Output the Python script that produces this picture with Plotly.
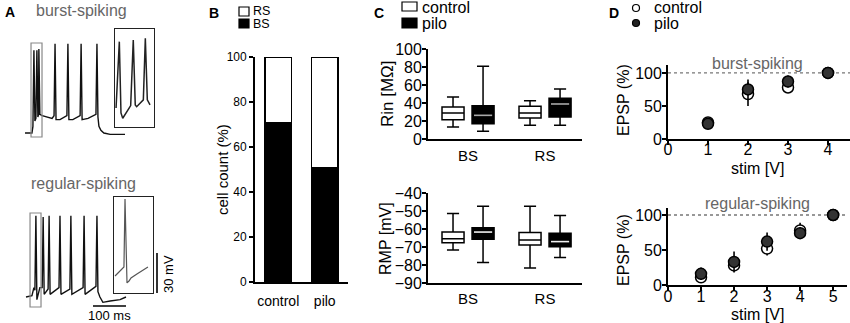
import plotly.graph_objects as go

W, H = 850, 323
FONT = "Liberation Sans, Arial, sans-serif"

# ---------------- Panel A: membrane potential traces (ms, mV) ----------------
A_top_t = [0, 21, 24, 27, 30, 33, 36, 39, 41, 42, 45, 52, 67, 82, 88, 91, 94, 106, 127, 130,
           133, 145, 167, 170, 173, 191, 215, 218, 221, 224, 230, 239, 258, 282, 303]
A_top_v = [-70, -70, -65, -8, -61, -59, -8, -58, -56, -7, -56, -57, -58, -59, -57, -3, -60, -60, -57, -3,
           -60, -60, -57, -3, -60, -59, -56, -3, -58, -65, -68, -70, -71, -71, -71]

A_bot_t = [3, 21, 27, 30, 33, 36, 39, 45, 52, 55, 58, 70, 73, 76, 103, 106, 109, 136, 139, 142,
           176, 179, 182, 215, 218, 221, 227, 236, 258, 288, 306]
A_bot_v = [-70, -69, -63, -65, -9, -72, -69, -63, -63, -10, -68, -64, -9, -68, -63, -9, -68, -64, -9, -68,
           -63, -9, -68, -62, -9, -66, -70, -74, -73, -72, -70]

A_in1_t = [19.1, 21.9, 23.3, 24.8, 31.6, 33.8, 35.5, 36.7, 42.4, 44.1, 45.8, 48.1]
A_in1_v = [-59.3, -11.6, -62.9, -66.7, -57.6, -10.4, -57.1, -58.4, -53.5, -9.2, -53.5, -57.1]

A_in2_t = [16.1, 23.7, 24.6, 26.3, 28.0, 29.7, 34.8, 44.2]
A_in2_v = [-65.0, -58.4, -8.5, -70.1, -68.7, -66.5, -63.5, -58.4]

INSET1_T = [18.2, 51.5]
INSET1_V = [-73, -2.5]
INSET2_T = [15.2, 48.5]
INSET2_V = [-77.5, -7]
SCALE_MS = 100
SCALE_MV = 30

# ---------------- Panel B: cell count ----------------
B_groups = ["control", "pilo"]
B_BS = [71, 51]
B_RS = [29, 49]
B_yticks = [0, 20, 40, 60, 80, 100]

# ---------------- Panel C: box plots ----------------
C_groups = ["BS", "RS"]
Rin_ctrl = dict(lo=[13.3, 15.2], q1=[21.5, 23.3], med=[28.9, 28.9], q3=[35.6, 36.3], hi=[46.7, 42.6])
Rin_pilo = dict(lo=[8.5, 15.2], q1=[17.0, 24.4], med=[26.3, 38.9], q3=[37.0, 45.2], hi=[80.7, 55.6])
RMP_ctrl = dict(lo=[-71.6, -81.7], q1=[-67.6, -68.9], med=[-65.4, -66.1], q3=[-61.7, -61.9], hi=[-51.4, -47.4])
RMP_pilo = dict(lo=[-78.6, -75.8], q1=[-65.7, -69.8], med=[-61.7, -67.0], q3=[-59.3, -62.4], hi=[-47.4, -52.5])
Rin_ticks = [0, 20, 40, 60, 80, 100]
RMP_ticks = [-90, -80, -70, -60, -50, -40]

# ---------------- Panel D: EPSP vs stim ----------------
D_bs_stim = [1, 2, 3, 4]
D_bs_ctrl = [25, 68, 78, 100]
D_bs_ctrl_err = [3, 18, 6, 1]
D_bs_pilo = [23, 75, 87, 100]
D_bs_pilo_err = [4, 15, 9, 1]

D_rs_stim = [1, 2, 3, 4, 5]
D_rs_ctrl = [11, 28, 52, 78, 100]
D_rs_ctrl_err = [5, 7, 10, 11, 1]
D_rs_pilo = [16, 33, 62, 74, 100]
D_rs_pilo_err = [9, 15, 13, 8, 1]


def xd(a, b):
    return [a / W, b / W]


def yd(top, bot):
    return [1 - bot / H, 1 - top / H]


def txt(s, x, y, size, color="black", xa="center", ya="middle", angle=0, bold=False):
    return dict(text=(f"<b>{s}</b>" if bold else s), x=x / W, y=1 - y / H, xref="paper", yref="paper",
                xanchor=xa, yanchor=ya, showarrow=False, textangle=angle,
                font=dict(size=size, color=color, family=FONT))


def axis(dom, rng, anchor, size=14, **kw):
    d = dict(domain=dom, range=rng, anchor=anchor, showgrid=False, zeroline=False, showline=True,
             linecolor="black", linewidth=1.8, ticks="outside", tickcolor="black", tickwidth=1.6,
             ticklen=4, tickfont=dict(size=size, family=FONT, color="black"), fixedrange=True,
             automargin=False)
    d.update(kw)
    return d


def hidden(dom, rng, anchor, **kw):
    d = dict(domain=dom, range=rng, anchor=anchor, visible=False, fixedrange=True, automargin=False)
    d.update(kw)
    return d


fig = go.Figure()

# ---- Panel A traces
fig.add_trace(go.Scatter(x=A_top_t, y=A_top_v, mode="lines", line=dict(color="#111", width=1.4),
                         xaxis="x6", yaxis="y6", hoverinfo="skip"))
fig.add_trace(go.Scatter(x=A_bot_t, y=A_bot_v, mode="lines", line=dict(color="#111", width=1.4),
                         xaxis="x7", yaxis="y7", hoverinfo="skip"))
fig.add_trace(go.Scatter(x=A_in1_t, y=A_in1_v, mode="lines", line=dict(color="#222", width=1.5),
                         xaxis="x8", yaxis="y8", hoverinfo="skip"))
fig.add_trace(go.Scatter(x=A_in2_t, y=A_in2_v, mode="lines", line=dict(color="#555", width=1.2),
                         xaxis="x9", yaxis="y9", hoverinfo="skip"))

# ---- Panel B bars
B_x = list(range(len(B_groups)))
fig.add_trace(go.Bar(x=B_x, y=B_BS, marker=dict(color="black", line=dict(color="black", width=1.5)),
                     width=0.56, xaxis="x", yaxis="y"))
fig.add_trace(go.Bar(x=B_x, y=B_RS, marker=dict(color="white", line=dict(color="black", width=1.5)),
                     width=0.56, xaxis="x", yaxis="y"))

# ---- Panel C boxes
C_OFF = 0.195
C_W = 0.286
C_pos = list(range(len(C_groups)))


def add_boxes(stats, fill, ax_x, ax_y, offset, median_color=None):
    xs = [p + offset for p in C_pos]
    fig.add_trace(go.Box(x=xs, q1=stats["q1"], median=stats["med"], q3=stats["q3"],
                         lowerfence=stats["lo"], upperfence=stats["hi"], width=C_W, whiskerwidth=0.55,
                         fillcolor=fill, line=dict(color="black", width=1.5), boxpoints=False,
                         xaxis=ax_x, yaxis=ax_y, hoverinfo="skip"))
    if median_color:
        mx, my = [], []
        for x, m in zip(xs, stats["med"]):
            mx += [x - C_W / 2 + 0.025, x + C_W / 2 - 0.025, None]
            my += [m, m, None]
        fig.add_trace(go.Scatter(x=mx, y=my, mode="lines", line=dict(color=median_color, width=1.6),
                                 xaxis=ax_x, yaxis=ax_y, hoverinfo="skip"))


add_boxes(Rin_ctrl, "white", "x2", "y2", -C_OFF)
add_boxes(Rin_pilo, "black", "x2", "y2", C_OFF, "#a8a8a8")
add_boxes(RMP_ctrl, "white", "x3", "y3", -C_OFF)
add_boxes(RMP_pilo, "black", "x3", "y3", C_OFF, "#f0f0f0")

# ---- Panel D scatter
def add_pts(xs, ys, err, color, ax_x, ax_y):
    fig.add_trace(go.Scatter(x=xs, y=ys, mode="markers", cliponaxis=False,
                             marker=dict(size=11, color=color, line=dict(color="black", width=1.5)),
                             error_y=dict(type="data", array=err, color="black", thickness=1.6, width=0),
                             xaxis=ax_x, yaxis=ax_y, hoverinfo="skip"))


add_pts(D_bs_stim, D_bs_ctrl, D_bs_ctrl_err, "white", "x4", "y4")
add_pts(D_bs_stim, D_bs_pilo, D_bs_pilo_err, "#333333", "x4", "y4")
add_pts(D_rs_stim, D_rs_ctrl, D_rs_ctrl_err, "white", "x5", "y5")
add_pts(D_rs_stim, D_rs_pilo, D_rs_pilo_err, "#333333", "x5", "y5")

# ---------------- Layout ----------------
layout = dict(
    template="none",
    width=W, height=H, margin=dict(l=0, r=0, t=0, b=0, pad=0, autoexpand=False), showlegend=False,
    plot_bgcolor="white", paper_bgcolor="white", barmode="stack", bargap=0.44, boxmode="overlay",
    font=dict(family=FONT, color="black"),
)

# B
layout["xaxis"] = axis(xd(255, 348), [-0.5, 1.5], "y", size=14, ticks="", tickvals=B_x, ticktext=B_groups,
                       ticklabelstandoff=5)
layout["yaxis"] = axis(yd(57, 282), [0, 100], "x", size=12, tickvals=B_yticks)
# C
C_rng = [-0.52, 1.48]
layout["xaxis2"] = axis(xd(428, 582), C_rng, "y2", size=15, ticks="", tickvals=C_pos, ticktext=C_groups,
                        ticklabelstandoff=2)
layout["yaxis2"] = axis(yd(49, 139), [0, 100], "x2", size=16, tickvals=Rin_ticks, ticklabelstandoff=-3)
layout["xaxis3"] = axis(xd(428, 582), C_rng, "y3", size=15, ticks="", tickvals=C_pos, ticktext=C_groups,
                        ticklabelstandoff=1)
layout["yaxis3"] = axis(yd(193, 283), [-90, -40], "x3", size=16, tickvals=RMP_ticks, ticklabelstandoff=-3)
# D
layout["xaxis4"] = axis(xd(668, 850), [0, 4.55], "y4", size=16, tickvals=[0, 1, 2, 3, 4], ticklabelstandoff=-9)
layout["yaxis4"] = axis(yd(65, 139), [0, 112], "x4", size=16, tickvals=[0, 50, 100], ticklabelstandoff=-3)
layout["xaxis5"] = axis(xd(668, 847), [0, 5.42], "y5", size=16, tickvals=[0, 1, 2, 3, 4, 5], ticklabelstandoff=-8)
layout["yaxis5"] = axis(yd(208, 285), [0, 110], "x5", size=16, tickvals=[0, 50, 100], ticklabelstandoff=-3)
# A (physiological units, hidden axes)
A_T = [-75.8, 530.3]
layout["xaxis6"] = hidden(xd(0, 200), A_T, "y6")
layout["yaxis6"] = hidden(yd(20, 160), [-90.25, 14.75], "x6")
layout["xaxis7"] = hidden(xd(0, 200), A_T, "y7")
layout["yaxis7"] = hidden(yd(180, 320), [-87.25, 17.75], "x7")
box_ax = dict(visible=True, showline=True, mirror=True, linecolor="#222", linewidth=1.3,
              showticklabels=False, ticks="", showgrid=False, zeroline=False, automargin=False)
layout["xaxis8"] = dict(domain=xd(115, 154), range=INSET1_T, anchor="y8", fixedrange=True, **box_ax)
layout["yaxis8"] = dict(domain=yd(29, 127), range=INSET1_V, anchor="x8", fixedrange=True, **box_ax)
layout["xaxis9"] = dict(domain=xd(114, 153), range=INSET2_T, anchor="y9", fixedrange=True, **box_ax)
layout["yaxis9"] = dict(domain=yd(197, 293), range=INSET2_V, anchor="x9", fixedrange=True, **box_ax)

fig.update_layout(**layout)

# ---------------- Shapes ----------------
shapes = []
# gray selection boxes in panel A
shapes.append(dict(type="rect", xref="x6", yref="y6", x0=INSET1_T[0], x1=INSET1_T[1],
                   y0=INSET1_V[0], y1=INSET1_V[1], line=dict(color="#888", width=1.2)))
shapes.append(dict(type="rect", xref="x7", yref="y7", x0=INSET2_T[0], x1=INSET2_T[1],
                   y0=INSET2_V[0], y1=INSET2_V[1], line=dict(color="#888", width=1.2)))
# scale bars
SB_T0, SB_V0 = 206, -76.75
shapes.append(dict(type="line", xref="x7", yref="y7", x0=SB_T0, x1=SB_T0 + SCALE_MS, y0=SB_V0, y1=SB_V0,
                   line=dict(color="black", width=1.6)))
SV_T0, SV_V0 = 400, -67
shapes.append(dict(type="line", xref="x7", yref="y7", x0=SV_T0, x1=SV_T0, y0=SV_V0, y1=SV_V0 + SCALE_MV,
                   line=dict(color="black", width=1.6)))
# dashed 100 % lines in D
for ya, xa in (("y4", "x4"), ("y5", "x5")):
    shapes.append(dict(type="line", xref=f"{xa} domain", yref=ya, x0=0, x1=1, y0=100, y1=100,
                       line=dict(color="#777", width=1.3, dash="dot"), layer="below"))
# legend swatches B
shapes.append(dict(type="rect", xref="paper", yref="paper", x0=239 / W, x1=249 / W, y0=1 - 16 / H, y1=1 - 7 / H,
                   line=dict(color="black", width=1.2), fillcolor="white"))
shapes.append(dict(type="rect", xref="paper", yref="paper", x0=239 / W, x1=249 / W, y0=1 - 28 / H, y1=1 - 19 / H,
                   line=dict(color="black", width=1.2), fillcolor="black"))
# legend swatches C
shapes.append(dict(type="rect", xref="paper", yref="paper", x0=402 / W, x1=417 / W, y0=1 - 11 / H, y1=1 - 2 / H,
                   line=dict(color="black", width=1.2), fillcolor="white"))
shapes.append(dict(type="rect", xref="paper", yref="paper", x0=402 / W, x1=417 / W, y0=1 - 28 / H, y1=1 - 18 / H,
                   line=dict(color="black", width=1.2), fillcolor="black"))
# legend markers D
for cy, fill in ((8, "white"), (23, "#222")):
    shapes.append(dict(type="circle", xref="paper", yref="paper", xsizemode="pixel", ysizemode="pixel",
                       xanchor=636 / W, yanchor=1 - cy / H, x0=-3.5, x1=3.5, y0=-3.5, y1=3.5,
                       line=dict(color="black", width=1.2), fillcolor=fill))
fig.update_layout(shapes=shapes)

# ---------------- Annotations ----------------
GRAY = "#666666"
anns = [
    txt("A", 3, 12, 14, xa="left", bold=True),
    txt("B", 207, 13, 14, xa="left", bold=True),
    txt("C", 372, 13, 14, xa="left", bold=True),
    txt("D", 607, 13, 14, xa="left", bold=True),
    txt("burst-spiking", 81, 11, 16, color=GRAY),
    txt("regular-spiking", 83, 183, 16, color=GRAY),
    txt("100 ms", 109, 315, 13),
    txt("30 mV", 168, 274, 13, angle=-90),
    txt("RS", 251, 11.5, 12.5, xa="left"),
    txt("BS", 251, 24.5, 12.5, xa="left"),
    txt("cell count (%)", 222, 170, 15, angle=-90),
    txt("control", 420, 7, 16, xa="left"),
    txt("pilo", 420, 24, 16, xa="left"),
    txt("Rin [MΩ]", 387, 94, 17, angle=-90),
    txt("RMP [mV]", 385, 239, 16, angle=-90),
    txt("control", 652, 8, 16, xa="left"),
    txt("pilo", 652, 24, 16, xa="left"),
    txt("burst-spiking", 757, 63, 16, color=GRAY),
    txt("regular-spiking", 757, 203, 16, color=GRAY),
    txt("EPSP (%)", 623, 100, 16, angle=-90),
    txt("EPSP (%)", 623, 250, 16, angle=-90),
    txt("stim [V]", 757, 168, 16),
    txt("stim [V]", 757, 314, 16),
]
fig.update_layout(annotations=anns)

fig.write_html("out.html", config={"displayModeBar": False},
               post_script="document.body.style.margin='0';document.body.style.overflow='hidden';")
